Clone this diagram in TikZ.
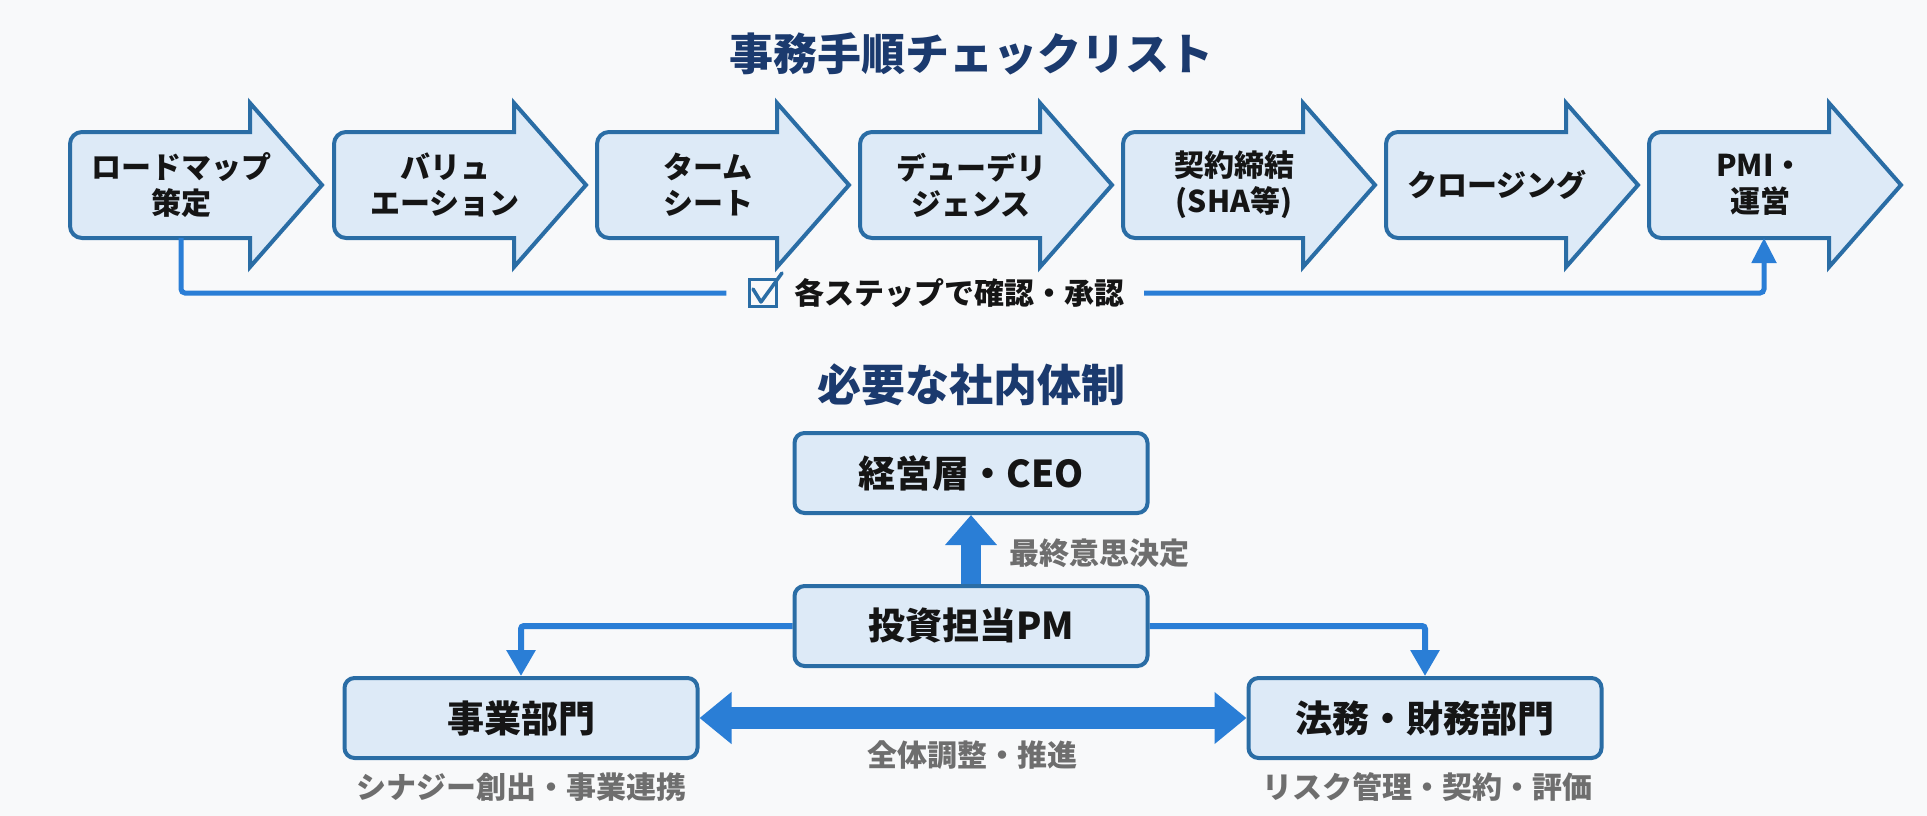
\documentclass[tikz,border=0pt]{standalone}
\usepackage{fontspec}
\setmainfont{Noto Sans CJK JP}
\usetikzlibrary{arrows.meta}
\definecolor{bgc}{HTML}{F8F9FA}
\definecolor{navy}{HTML}{1B3A6E}
\definecolor{stroke}{HTML}{2A6DA5}
\definecolor{lfill}{HTML}{DDEAF7}
\definecolor{conn}{HTML}{2A7ED6}
\definecolor{graytxt}{HTML}{6E6E6E}
\definecolor{ink}{HTML}{151515}
\tikzset{
  stepshape/.style={draw=stroke, fill=lfill, line width=4pt},
  steptext/.style={font=\fontsize{30}{36}\selectfont\bfseries, text=ink, align=center, inner sep=0pt},
  titletext/.style={font=\fontsize{44}{50}\selectfont\bfseries, text=navy, inner sep=0pt},
  orgbox/.style={draw=stroke, fill=lfill, line width=4pt, rounded corners=10pt, minimum width=353pt, minimum height=80pt, inner sep=0pt, font=\fontsize{37}{42}\selectfont\bfseries, text=ink},
  notetext/.style={font=\fontsize{30}{36}\selectfont\bfseries, text=graytxt, inner sep=0pt},
  fblabel/.style={font=\fontsize{30}{36}\selectfont\bfseries, text=ink, inner sep=0pt},
  fbline/.style={draw=conn, line width=5pt, rounded corners=4pt},
  chkbox/.style={draw=stroke, line width=2.5pt, minimum size=27pt, inner sep=0pt},
  thinconn/.style={draw=conn, line width=6pt, rounded corners=3pt, -{Triangle[width=28pt,length=26pt]}},
  thickconn/.style={draw=conn, line width=20pt, -{Triangle[width=50pt,length=30pt]}},
  dblconn/.style={draw=conn, line width=22pt, {Triangle[width=50pt,length=32pt]}-{Triangle[width=50pt,length=32pt]}},
}
\newcommand\steparrow[3]{%
  \draw[stepshape] (#2+100,238) [rounded corners=12pt] -- (#2,238) -- (#2,132) -- (#2+100,132) [sharp corners] -- (#2+180,132) -- (#2+180,103) -- (#2+252,185) -- (#2+180,267) -- (#2+180,238) -- cycle;
  \node[steptext] (#1) at (#2+111,185) {#3};
}
\begin{document}
\begin{tikzpicture}[x=1pt,y=-1pt]
\useasboundingbox (0,0) rectangle (1927,816);
\fill[bgc] (0,0) rectangle (1927,816);

% ---- top section
\node[titletext] (t1) at (971,54) {事務手順チェックリスト};

\steparrow{s1}{70}{ロードマップ\\策定}
\steparrow{s2}{334}{バリュ\\エーション}
\steparrow{s3}{597}{ターム\\シート}
\steparrow{s4}{860}{デューデリ\\ジェンス}
\steparrow{s5}{1123}{契約締結\\(SHA等)}
\steparrow{s6}{1386}{クロージング}
\steparrow{s7}{1649}{PMI・\\運営}

\coordinate (b1) at (181,238);
\coordinate (b7) at (1764,238);
\node[chkbox] (chk) at (763,293) {};
\draw[draw=stroke, line width=3.5pt, line cap=round, line join=round]
  ([shift={(-10,-4)}]chk.center) -- ([shift={(-2,9)}]chk.center) -- ([shift={(19,-20)}]chk.center);
\node[fblabel] (lbl) at (959,293) {各ステップで確認・承認};
\draw[fbline] (b1) |- ([xshift=-22pt]chk.west);
\draw[fbline, -{Triangle[width=24pt,length=25pt]}] ([xshift=20pt]lbl.east) -| (b7);

% ---- bottom section
\node[titletext] (t2) at (971,385) {必要な社内体制};

\coordinate (ceoc) at (971,473);
\coordinate (pmc) at (971,626);
\node[orgbox, draw=none, fill=none] (ceo) at (ceoc) {};
\node[orgbox, draw=none, fill=none] (pm) at (pmc) {};
\node[orgbox, draw=none, fill=none] (biz) at (521,718) {};
\node[orgbox, draw=none, fill=none] (legal) at (1425,718) {};

\draw[thickconn] (pm.north) -- (ceo.south);
\draw[thinconn] (pm.west) -| (biz.north);
\draw[thinconn] (pm.east) -| (legal.north);
\draw[dblconn] (biz.east) -- (legal.west);

\node[orgbox] (ceoB) at (ceo) {経営層・CEO};
\node[orgbox] (pmB) at (pm) {投資担当PM};
\node[orgbox] (bizB) at (biz) {事業部門};
\node[orgbox] (legalB) at (legal) {法務・財務部門};

\node[notetext, anchor=west] (n1) at (1009,553) {最終意思決定};
\node[notetext] (n2) at (972,755) {全体調整・推進};
\node[notetext] (n3) at (521,787) {シナジー創出・事業連携};
\node[notetext] (n4) at (1427,787) {リスク管理・契約・評価};
\end{tikzpicture}
\end{document}
